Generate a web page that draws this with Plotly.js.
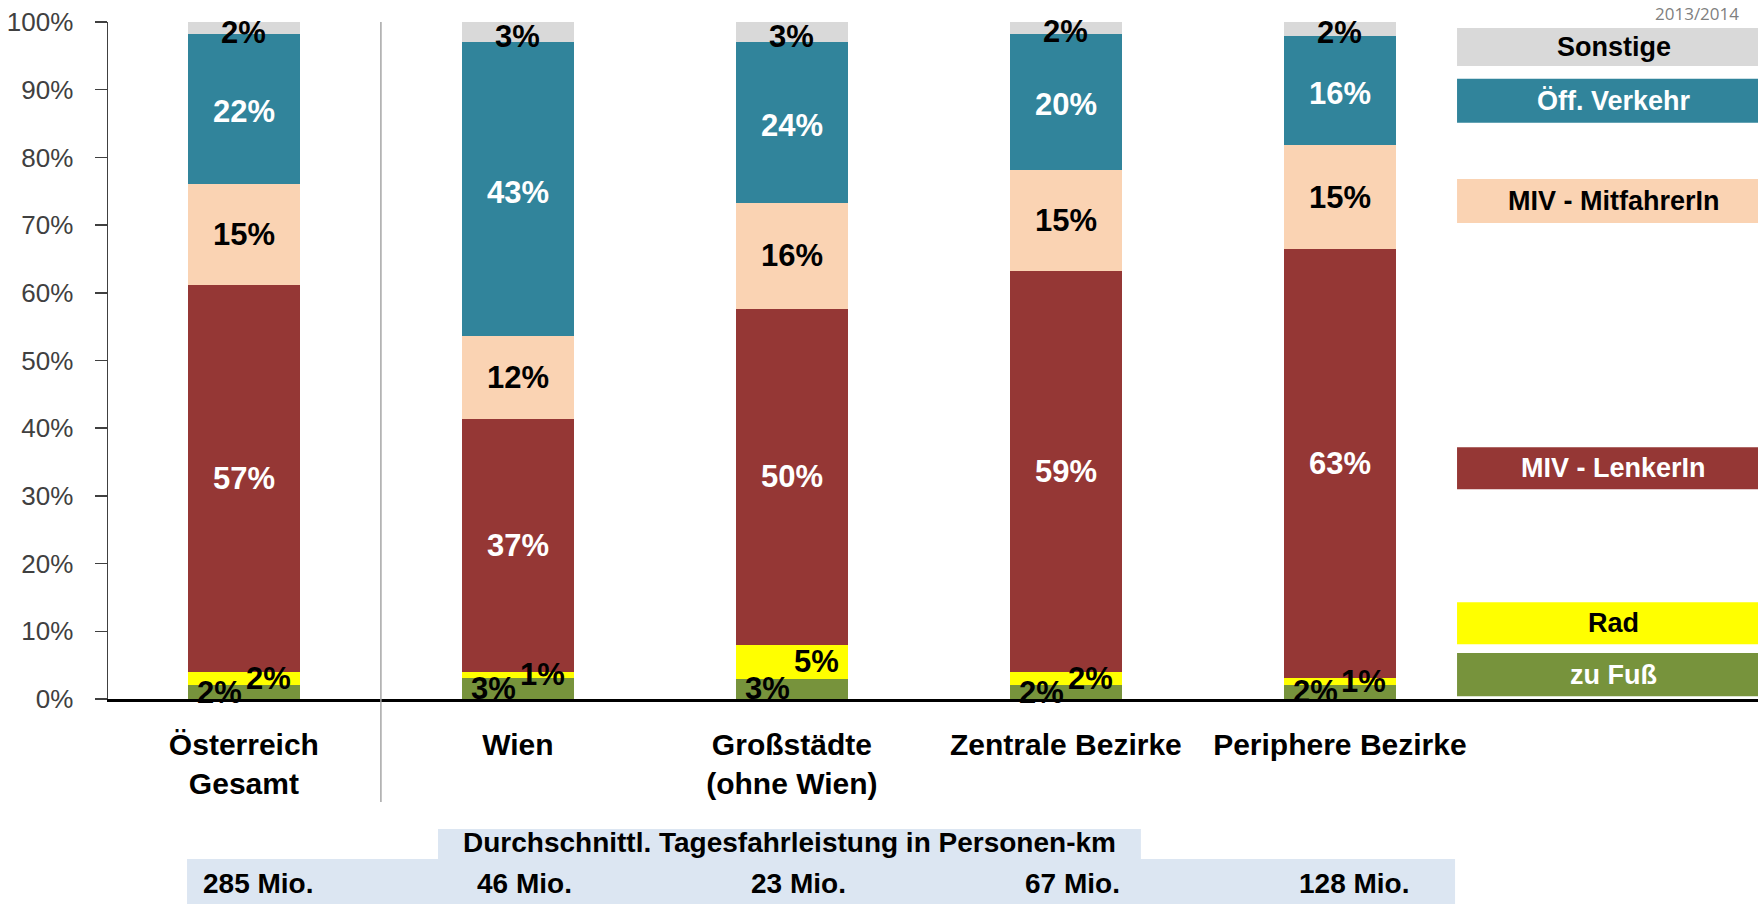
<!DOCTYPE html>
<html>
<head>
<meta charset="utf-8">
<script src="https://cdn.plot.ly/plotly-3.0.1.min.js"></script>
<style>
  html, body { margin: 0; padding: 0; background: #ffffff; }
  #chart { width: 1758px; height: 904px; }
</style>
</head>
<body>
<div id="chart"></div>
<script>
// Kategorien (Raumtypen) und Anteile der Verkehrsmittel in %
var categories = ['Österreich<br>Gesamt', 'Wien', 'Großstädte<br>(ohne Wien)', 'Zentrale Bezirke', 'Periphere Bezirke'];
var modes = ['zu Fuß', 'Rad', 'MIV - LenkerIn', 'MIV - MitfahrerIn', 'Öff. Verkehr', 'Sonstige'];

var zuFuss      = [2.0, 3.1, 3.0, 2.0, 2.1];
var rad         = [2.0, 0.9, 5.0, 2.0, 1.0];
var lenker      = [57.1, 37.3, 49.6, 59.2, 63.4];
var mitfahrer   = [15.0, 12.3, 15.7, 14.9, 15.3];
var oeffentlich = [22.1, 43.4, 23.7, 20.2, 16.2];
var sonstige    = [1.8, 3.0, 3.0, 1.7, 2.0];

// Durchschnittliche Tagesfahrleistung je Raumtyp
var fahrleistung = ['285 Mio.', '46 Mio.', '23 Mio.', '67 Mio.', '128 Mio.'];

// Achsenbeschriftung y
var yTicks = [0, 10, 20, 30, 40, 50, 60, 70, 80, 90, 100];
var yTickText = ['0%', '10%', '20%', '30%', '40%', '50%', '60%', '70%', '80%', '90%', '100%'];

var series = [zuFuss, rad, lenker, mitfahrer, oeffentlich, sonstige];
var colors = ['#77933c', '#ffff00', '#953735', '#fad3b3', '#31849b', '#d9d9d9'];
var labelColors = ['#000000', '#000000', '#ffffff', '#000000', '#ffffff', '#000000'];
var legendTextColors = ['#ffffff', '#000000', '#ffffff', '#000000', '#ffffff', '#000000'];
var labelShift = [-0.088, 0.088, 0, 0, 0, 0];
var labelYShift = [0, 0, 0, 0, -3, -4];

var xs = categories.map(function (c, i) { return i; });

var data = series.map(function (vals, s) {
  return {
    type: 'bar',
    x: xs,
    y: vals,
    name: modes[s],
    width: 0.41,
    marker: { color: colors[s], line: { width: 0 } },
    hoverinfo: 'skip',
    showlegend: false
  };
});

var annotations = [];
var bold = 'Liberation Sans, Arial, sans-serif';
var narrow = 'Liberation Sans Narrow, Arial Narrow, Liberation Sans, sans-serif';

// Prozentwerte in den Balken
xs.forEach(function (i) {
  var base = 0;
  series.forEach(function (vals, s) {
    var v = vals[i];
    annotations.push({
      x: i + labelShift[s], y: base + v / 2, xref: 'x', yref: 'y',
      xanchor: 'center', yanchor: 'middle', yshift: labelYShift[s],
      text: Math.round(v) + '%', showarrow: false,
      font: { family: narrow, size: 31, color: labelColors[s], weight: 'bold' }
    });
    base += v;
  });
});

// Legendenkästen rechts
var legendBoxes = [[0.4, 6.8], [8.1, 14.3], [31.0, 37.2], [70.3, 76.8], [85.1, 91.6], [93.5, 99.1]];
var shapes = [];
legendBoxes.forEach(function (b, s) {
  shapes.push({
    type: 'rect', xref: 'paper', yref: 'y', x0: 0.8176, x1: 1, y0: b[0], y1: b[1],
    fillcolor: colors[s], line: { width: 0 }, layer: 'below'
  });
  annotations.push({
    xref: 'paper', yref: 'y', x: 0.9127, y: (b[0] + b[1]) / 2,
    xanchor: 'center', yanchor: 'middle',
    text: modes[s], showarrow: false,
    font: { family: bold, size: 27, color: legendTextColors[s], weight: 'bold' }
  });
});

// Trennlinie nach Österreich Gesamt
shapes.push({
  type: 'line', xref: 'x', yref: 'paper', x0: 0.5, x1: 0.5, y0: -0.152, y1: 1.0,
  line: { color: '#a6a6a6', width: 1.5 }
});

// Tabelle unten
shapes.push({
  type: 'rect', xref: 'paper', yref: 'paper', x0: 0.2, x1: 0.626, y0: -0.2363, y1: -0.192,
  fillcolor: '#dce6f2', line: { width: 0 }
});
shapes.push({
  type: 'rect', xref: 'paper', yref: 'paper', x0: 0.0479, x1: 0.8164, y0: -0.32, y1: -0.2363,
  fillcolor: '#dce6f2', line: { width: 0 }
});
annotations.push({
  xref: 'paper', yref: 'paper', x: 0.4133, y: -0.2127,
  xanchor: 'center', yanchor: 'middle',
  text: 'Durchschnittl. Tagesfahrleistung in Personen-km', showarrow: false,
  font: { family: bold, size: 28, color: '#000000', weight: 'bold' }
});
fahrleistung.forEach(function (t, i) {
  annotations.push({
    xref: 'x', yref: 'paper', x: i - 0.155, y: -0.272,
    xanchor: 'left', yanchor: 'middle',
    text: t, showarrow: false,
    font: { family: bold, size: 28, color: '#000000', weight: 'bold' }
  });
});

annotations.push({
  xref: 'paper', yref: 'paper', x: 0.963, y: 1.013,
  xanchor: 'center', yanchor: 'middle',
  text: '2013/2014', showarrow: false,
  font: { family: 'Open Sans, sans-serif', size: 17, color: '#7f7f7f' }
});

var layout = {
  width: 1758,
  height: 904,
  margin: { l: 108, r: 0, t: 22, b: 205 },
  barmode: 'stack',
  paper_bgcolor: '#ffffff',
  plot_bgcolor: '#ffffff',
  showlegend: false,
  hovermode: false,
  xaxis: {
    range: [-0.496, 5.526],
    tickvals: xs,
    ticktext: categories,
    ticks: '',
    showgrid: false,
    zeroline: false,
    showline: true,
    linecolor: '#000000',
    linewidth: 3,
    ticklabelstandoff: 17,
    tickfont: { family: bold, size: 30, color: '#000000', weight: 'bold' },
    fixedrange: true
  },
  yaxis: {
    range: [0, 100],
    tickvals: yTicks,
    ticktext: yTickText,
    ticks: 'outside',
    ticklen: 12,
    tickcolor: '#404040',
    tickwidth: 1.5,
    showgrid: false,
    zeroline: false,
    showline: true,
    linecolor: '#404040',
    linewidth: 1.5,
    ticklabelstandoff: 16,
    tickfont: { family: 'Liberation Sans, Arial, sans-serif', size: 26, color: '#404040' },
    fixedrange: true
  },
  shapes: shapes,
  annotations: annotations
};

Plotly.newPlot('chart', data, layout, { displayModeBar: false, staticPlot: true });
</script>
</body>
</html>
